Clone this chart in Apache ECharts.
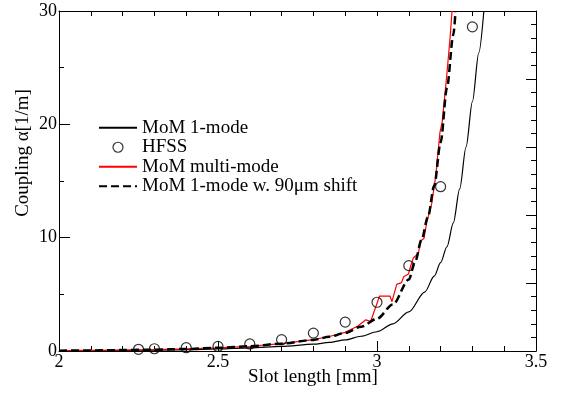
<!DOCTYPE html>
<html>
<head>
<meta charset="utf-8">
<script src="https://cdn.jsdelivr.net/npm/echarts@6/dist/echarts.min.js"></script>
<style>
  html, body { margin: 0; padding: 0; background: #fff; }
  #chart { width: 563px; height: 393px; }
</style>
</head>
<body>
<div id="chart"></div>
<script>
// MoM 1-mode (solid black)
const mom1X = [2.0, 2.1, 2.2, 2.3, 2.4, 2.5, 2.6, 2.7, 2.8, 2.85, 2.9, 2.95, 3.0, 3.05, 3.1, 3.15, 3.18, 3.2, 3.22, 3.24, 3.26, 3.28, 3.30, 3.32, 3.336]
const mom1Y = [0.02, 0.03, 0.05, 0.08, 0.12, 0.18, 0.27, 0.4, 0.6, 0.76, 0.98, 1.3, 1.7, 2.4, 3.45, 5.2, 6.6, 7.8, 9.2, 11.3, 14.3, 18.0, 22.0, 26.3, 30.0]

// HFSS (circles)
const hfssX = [2.25, 2.3, 2.4, 2.5, 2.6, 2.7, 2.8, 2.9, 3.0, 3.1, 3.2, 3.3]
const hfssY = [0.15, 0.2, 0.29, 0.4, 0.62, 1.0, 1.58, 2.55, 4.3, 7.53, 14.5, 28.6]

// MoM multi-mode (red)
const multiX = [2.0, 2.1, 2.2, 2.3, 2.4, 2.5, 2.6, 2.7, 2.8, 2.85, 2.9, 2.94, 2.965, 2.98, 3.008, 3.041, 3.047, 3.062, 3.077, 3.084, 3.099, 3.106, 3.114, 3.13, 3.137, 3.148, 3.156, 3.172, 3.185, 3.198, 3.205, 3.219, 3.23, 3.236]
const multiY = [0.03, 0.05, 0.08, 0.12, 0.18, 0.28, 0.42, 0.65, 1.0, 1.28, 1.65, 2.2, 2.75, 2.6, 4.85, 4.85, 4.35, 5.88, 6.03, 6.55, 6.8, 7.5, 8.2, 8.6, 9.7, 9.95, 11.3, 13.0, 15.5, 19.3, 20.2, 24.2, 27.7, 30.0]

// MoM 1-mode w. 90um shift (dashed black)
const shiftX = [2.0, 2.1, 2.2, 2.3, 2.4, 2.5, 2.6, 2.7, 2.8, 2.85, 2.9, 2.95, 3.0, 3.05, 3.1, 3.12, 3.14, 3.16, 3.18, 3.2, 3.22, 3.24, 3.247]
const shiftY = [0.03, 0.05, 0.08, 0.12, 0.18, 0.28, 0.42, 0.65, 0.98, 1.25, 1.6, 2.15, 2.85, 4.1, 6.3, 7.9, 9.8, 11.8, 14.6, 18.4, 23.2, 27.9, 30.0]

const seriesNames = ['MoM 1-mode', 'HFSS', 'MoM multi-mode', 'MoM 1-mode w. 90\u03bcm shift']

const FONT = '"Liberation Serif", "Times New Roman", serif'

function pairs(xs, ys) {
  return xs.map((x, i) => [x, ys[i]])
}

const black = '#000'
const axisLine = { show: true, onZero: false, lineStyle: { color: black, width: 1 } }
// line legend entries: keep the line, hide the marker
const noMarker = { color: 'rgba(0,0,0,0)', borderWidth: 0, opacity: 0 }

const chart = echarts.init(document.getElementById('chart'))

const option = {
  animation: false,
  backgroundColor: '#fff',
  grid: { left: 59, right: 27, top: 11, bottom: 42 },
  legend: {
    orient: 'vertical',
    left: 93,
    top: 113,
    itemWidth: 38,
    itemHeight: 10,
    itemGap: 0,
    textStyle: { fontFamily: FONT, fontSize: 19, color: black, lineHeight: 19.5 },
    data: [
      { name: seriesNames[0], itemStyle: noMarker },
      { name: seriesNames[1], icon: 'circle', itemStyle: { color: 'transparent', borderColor: black, borderWidth: 1.2 } },
      { name: seriesNames[2], itemStyle: noMarker },
      { name: seriesNames[3], itemStyle: noMarker },
    ],
  },
  xAxis: [{
    type: 'value',
    position: 'bottom',
    min: 2,
    max: 3.5,
    interval: 0.5,
    axisLine: axisLine,
    axisTick: { inside: true, length: 10, lineStyle: { color: black } },
    minorTick: { show: true, splitNumber: 5, length: 5, lineStyle: { color: black } },
    splitLine: { show: false },
    axisLabel: { color: black, fontFamily: FONT, fontSize: 18, margin: 2 },
  }, {
    type: 'value',
    position: 'top',
    min: 2,
    max: 3.5,
    interval: 0.1,
    axisLine: axisLine,
    axisTick: { inside: true, length: 5, lineStyle: { color: black } },
    splitLine: { show: false },
    axisLabel: { show: false },
  }],
  yAxis: [{
    type: 'value',
    position: 'left',
    min: 0,
    max: 30,
    interval: 10,
    axisLine: axisLine,
    axisTick: { inside: true, length: 11, lineStyle: { color: black } },
    minorTick: { show: true, splitNumber: 2, length: 5, lineStyle: { color: black } },
    splitLine: { show: false },
    axisLabel: { color: black, fontFamily: FONT, fontSize: 18, margin: 2 },
  }, {
    type: 'value',
    position: 'right',
    min: 0,
    max: 30,
    interval: 6,
    axisLine: axisLine,
    axisTick: { inside: true, length: 10, lineStyle: { color: black } },
    minorTick: { show: true, splitNumber: 5, length: 5, lineStyle: { color: black } },
    splitLine: { show: false },
    axisLabel: { show: false },
  }],
  graphic: [{
    type: 'text',
    x: 313,
    y: 377,
    style: { text: 'Slot length [mm]', fill: black, font: '19px ' + FONT, align: 'center', verticalAlign: 'middle' },
  }, {
    type: 'text',
    x: 23,
    y: 153,
    rotation: Math.PI / 2,
    style: { text: 'Coupling \u03b1[1/m]', fill: black, font: '19px ' + FONT, align: 'center', verticalAlign: 'middle' },
  }],
  series: [{
    name: seriesNames[0],
    type: 'line',
    symbol: 'none',
    smooth: 0.3,
    smoothMonotone: 'x',
    lineStyle: { color: black, width: 1.2 },
    itemStyle: { color: black },
    data: pairs(mom1X, mom1Y),
  }, {
    name: seriesNames[1],
    type: 'scatter',
    symbol: 'circle',
    symbolSize: 10,
    itemStyle: { color: 'transparent', borderColor: black, borderWidth: 1.2 },
    data: pairs(hfssX, hfssY),
    z: 5,
  }, {
    name: seriesNames[2],
    type: 'line',
    symbol: 'none',
    lineStyle: { color: '#ff0000', width: 1.2 },
    itemStyle: { color: '#ff0000' },
    data: pairs(multiX, multiY),
  }, {
    name: seriesNames[3],
    type: 'line',
    symbol: 'none',
    smooth: 0.3,
    smoothMonotone: 'x',
    lineStyle: { color: black, width: 2.5, type: [8, 4] },
    itemStyle: { color: black },
    data: pairs(shiftX, shiftY),
  }],
}

chart.setOption(option)
</script>
</body>
</html>
